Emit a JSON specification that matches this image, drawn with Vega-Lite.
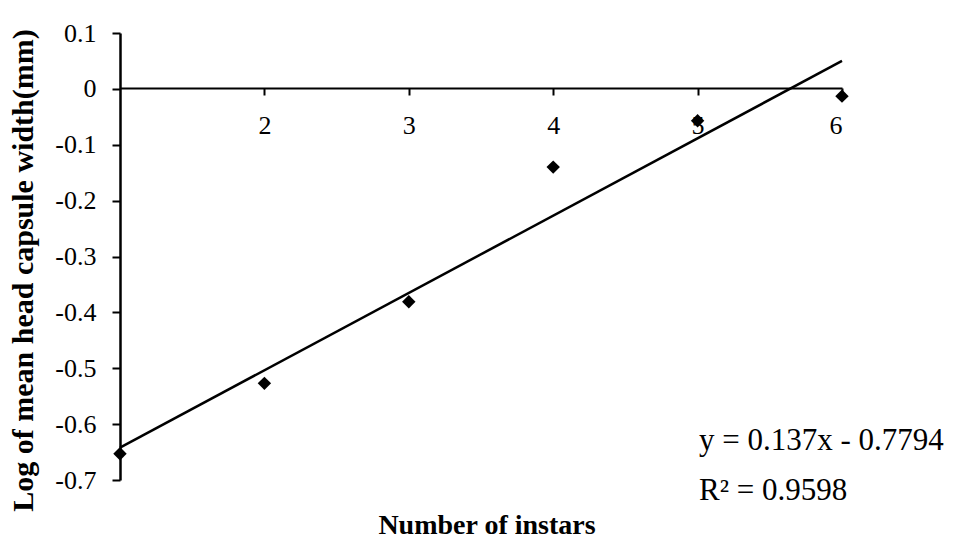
{
  "$schema": "https://vega.github.io/schema/vega-lite/v6.json",
  "width": 722,
  "height": 447,
  "autosize": {"type": "pad"},
  "padding": {"left": 8, "top": 20, "right": 2, "bottom": 2},
  "background": "white",
  "config": {"view": {"stroke": null}, "font": "Liberation Serif"},
  "title": {"text": "Number of instars", "orient": "bottom", "anchor": "middle", "fontSize": 28, "fontWeight": "bold", "font": "Liberation Serif", "color": "black", "offset": 1, "dx": 6},
  "datasets": {
    "points": [
      {"instar": 1, "logwidth": -0.653},
      {"instar": 2, "logwidth": -0.527},
      {"instar": 3, "logwidth": -0.381},
      {"instar": 4, "logwidth": -0.14},
      {"instar": 5, "logwidth": -0.057},
      {"instar": 6, "logwidth": -0.013}
    ],
    "trend": [
      {"instar": 1, "logwidth": -0.642},
      {"instar": 6, "logwidth": 0.05}
    ],
    "notes": [
      {"instar": 5.01, "logwidth": -0.63, "label": "y = 0.137x - 0.7794"},
      {"instar": 5.01, "logwidth": -0.72, "label": "R² = 0.9598"}
    ]
  },
  "encoding": {
    "x": {
      "field": "instar", "type": "quantitative",
      "scale": {"domain": [1, 6], "nice": false, "zero": false},
      "axis": {
        "values": [2, 3, 4, 5, 6], "format": "d", "offset": -392, "title": null, "grid": false,
        "domainColor": "black", "domainWidth": 2, "tickColor": "black", "tickSize": 7, "tickWidth": 2,
        "labelFontSize": 26, "labelFont": "Liberation Serif", "labelColor": "black", "labelPadding": 17
      }
    },
    "y": {
      "field": "logwidth", "type": "quantitative",
      "scale": {"domain": [-0.7, 0.1], "nice": false, "zero": false},
      "axis": {
        "values": [-0.7, -0.6, -0.5, -0.4, -0.3, -0.2, -0.1, 0, 0.1],
        "labelExpr": "datum.value == 0 ? '0' : (datum.value < 0 ? '-' : '') + format(abs(datum.value), '.1f')",
        "title": "Log of mean head capsule width(mm)", "titleFontSize": 30, "titleFontWeight": "bold",
        "titleFont": "Liberation Serif", "titleColor": "black", "titlePadding": 16, "titleY": 237,
        "grid": false, "domainColor": "black", "domainWidth": 2.5, "tickColor": "black", "tickSize": 8, "tickWidth": 2,
        "labelFontSize": 26, "labelFont": "Liberation Serif", "labelColor": "black", "labelPadding": 16
      }
    }
  },
  "layer": [
    {
      "data": {"name": "trend"},
      "mark": {"type": "line", "color": "black", "strokeWidth": 2.5}
    },
    {
      "data": {"name": "points"},
      "mark": {"type": "point", "shape": "diamond", "filled": true, "color": "black", "opacity": 1, "size": 180}
    },
    {
      "data": {"name": "notes"},
      "mark": {"type": "text", "align": "left", "baseline": "middle", "fontSize": 31, "font": "Liberation Serif", "color": "black"},
      "encoding": {"text": {"field": "label"}}
    }
  ]
}
